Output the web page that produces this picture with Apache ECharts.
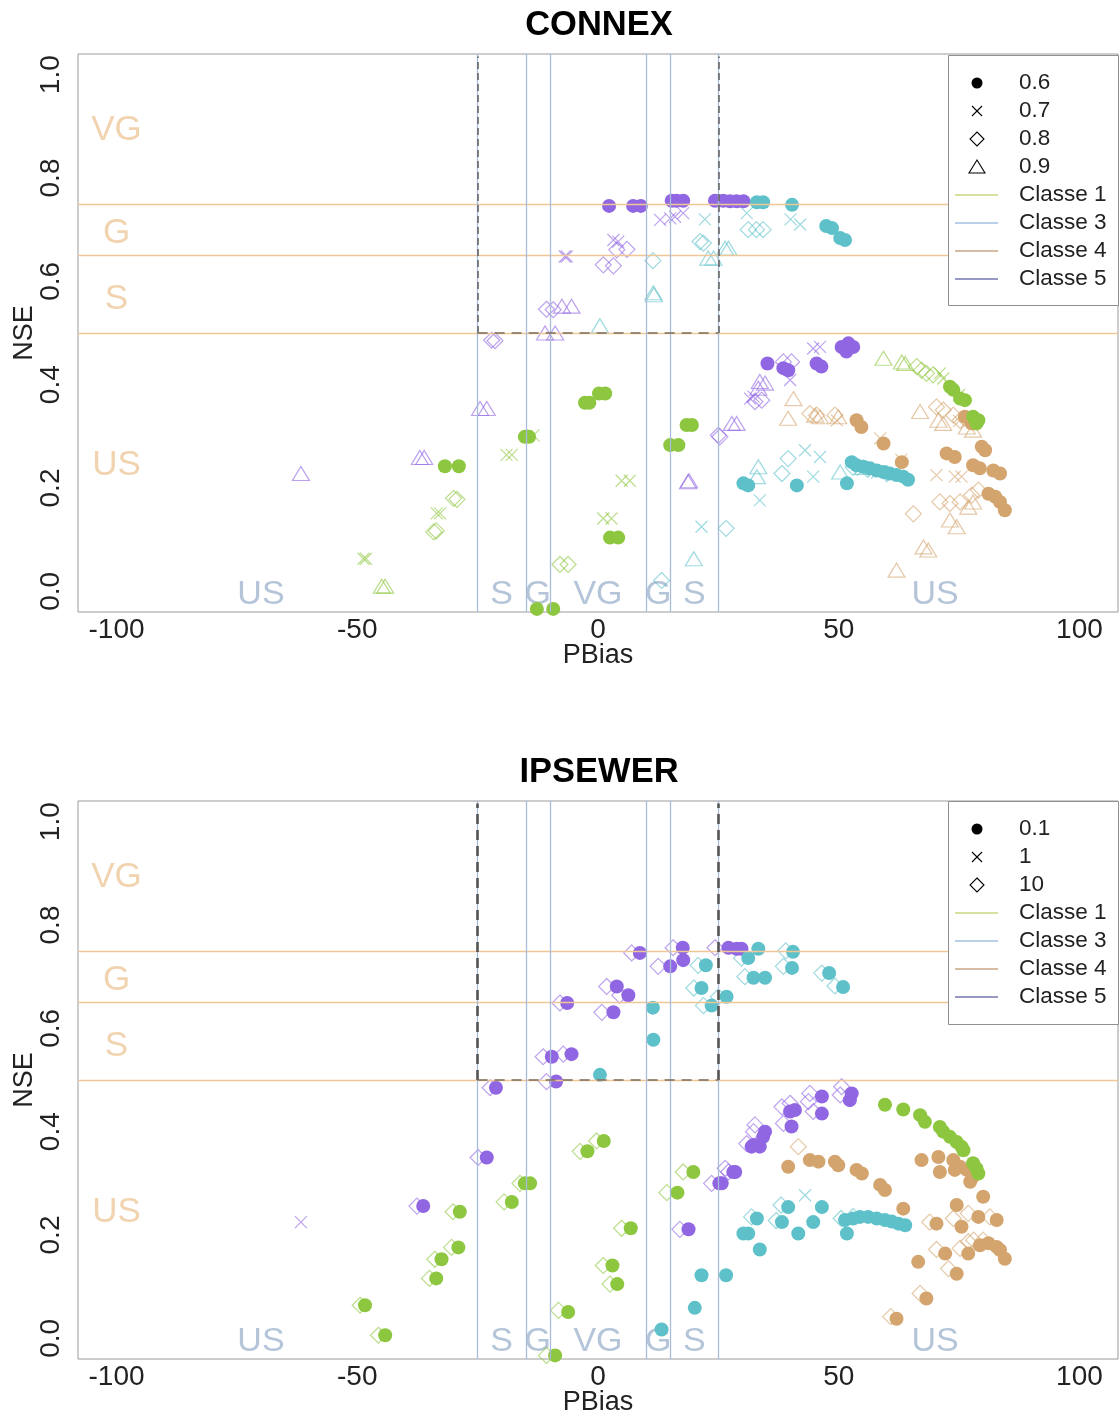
<!DOCTYPE html>
<html><head><meta charset="utf-8">
<script src="https://cdn.jsdelivr.net/npm/echarts@6/dist/echarts.min.js"></script>
<style>html,body{margin:0;padding:0;background:#fff}#c{width:1119px;height:1416px}</style>
</head><body><div id="c"></div>
<script>
// ---------------- DATA ----------------
const xTicks = [-100, -50, 0, 50, 100];
const yTicks = [0, 0.2, 0.4, 0.6, 0.8, 1.0];
const nseLimits = [0.5, 0.65, 0.75];
const pbiasLimits = [-25, -15, -10, 10, 15, 25];
const nseZoneNames = ['VG', 'G', 'S', 'US'];
const nseZoneY = [0.893, 0.692, 0.565, 0.243];
const nseZoneX = -100;
const pbiasZoneNames = ['US', 'S', 'G', 'VG', 'G', 'S', 'US'];
const pbiasZoneX = [-70, -20, -12.5, 0, 12.5, 20, 70];
const pbiasZoneY = -0.007;
const classNames = ['Classe 1', 'Classe 3', 'Classe 4', 'Classe 5'];
const connexParams = ['0.6', '0.7', '0.8', '0.9'];
const ipsewerParams = ['0.1', '1', '10'];

// CONNEX: class 5 (purple)
const cx_c5_p06 = [[2.3,0.746],[7.3,0.746],[8.9,0.746],[15.3,0.756],[16.3,0.756],[17.7,0.756],[24.3,0.756],[26.0,0.756],[27.4,0.755],[28.8,0.755],[30.2,0.755],[35.2,0.441],[38.5,0.432],[39.5,0.428],[45.4,0.441],[46.4,0.435],[50.6,0.473],[52.0,0.48],[53.0,0.473],[51.6,0.464]];
const cx_c5_p07 = [[12.9,0.719],[15.0,0.722],[16.0,0.725],[17.7,0.732],[3.2,0.68],[4.2,0.677],[-6.9,0.648],[-6.5,0.648],[39.9,0.409],[44.7,0.47],[46.1,0.473],[31.6,0.373],[32.3,0.377]];
const cx_c5_p08 = [[3.9,0.661],[6.0,0.662],[1.1,0.632],[3.2,0.63],[-10.7,0.546],[-9.3,0.545],[-22.1,0.486],[-21.4,0.485],[25.0,0.302],[25.3,0.299],[38.5,0.444],[40.2,0.444],[34.0,0.37],[32.6,0.367]];
const cx_c5_p09 = [[-7.5,0.552],[-5.5,0.552],[-11.0,0.50],[-8.9,0.50],[-24.5,0.354],[-23.1,0.354],[-37.0,0.259],[-36.1,0.259],[-61.7,0.228],[18.7,0.212],[18.9,0.214],[27.8,0.325],[28.8,0.325],[33.6,0.406],[34.7,0.403],[33.3,0.393]];
// CONNEX: class 3 (cyan)
const cx_c3_p06 = [[33.0,0.753],[34.3,0.753],[40.3,0.748],[47.4,0.707],[48.6,0.703],[50.3,0.684],[51.3,0.68],[30.2,0.209],[31.2,0.205],[41.3,0.205],[51.7,0.209],[52.7,0.25],[53.7,0.244],[55.1,0.241],[56.5,0.238],[57.9,0.234],[59.3,0.231],[60.6,0.228],[62.0,0.225],[63.4,0.222],[64.4,0.216]];
const cx_c3_p07 = [[22.2,0.72],[30.9,0.732],[40.0,0.72],[42.0,0.71],[33.6,0.176],[21.5,0.125],[43.0,0.273],[44.7,0.222],[46.1,0.26],[55.0,0.235],[58.0,0.23]];
const cx_c3_p08 = [[31.2,0.70],[32.9,0.70],[34.3,0.70],[21.2,0.677],[21.9,0.674],[11.4,0.64],[26.6,0.122],[13.2,0.021],[38.2,0.228],[39.5,0.257],[53.0,0.24],[56.0,0.236],[60.0,0.228]];
const cx_c3_p09 = [[26.4,0.664],[27.1,0.664],[22.9,0.645],[24.0,0.645],[11.5,0.578],[11.6,0.574],[0.4,0.514],[19.9,0.063],[33.3,0.241],[33.0,0.222],[50.3,0.231],[55.0,0.24]];
// CONNEX: class 4 (tan)
const cx_c4_p06 = [[53.7,0.331],[54.7,0.318],[59.3,0.286],[63.1,0.25],[76.2,0.338],[77.6,0.325],[79.7,0.28],[80.4,0.273],[72.4,0.267],[74.1,0.26],[77.9,0.244],[79.3,0.238],[82.1,0.234],[83.5,0.228],[81.1,0.189],[82.5,0.183],[83.5,0.173],[84.5,0.157]];
const cx_c4_p07 = [[49.6,0.331],[58.6,0.296],[70.3,0.225],[74.1,0.222],[75.5,0.222],[63.0,0.255],[75.0,0.33]];
const cx_c4_p08 = [[44.0,0.344],[45.4,0.341],[49.2,0.341],[70.3,0.357],[71.7,0.351],[73.8,0.341],[75.2,0.331],[75.2,0.173],[73.1,0.17],[71.0,0.173],[65.5,0.15],[77.6,0.186],[79.0,0.196]];
const cx_c4_p09 = [[40.6,0.373],[39.5,0.335],[45.1,0.341],[46.1,0.338],[49.9,0.338],[66.9,0.348],[70.7,0.331],[71.7,0.325],[76.6,0.318],[77.9,0.312],[73.1,0.138],[74.5,0.125],[76.9,0.163],[77.9,0.173],[62.0,0.041],[67.6,0.086],[68.6,0.08]];
// CONNEX: class 1 (green)
const cx_c1_p06 = [[-31.8,0.242],[-28.9,0.242],[-2.7,0.365],[-1.8,0.365],[0.2,0.383],[1.5,0.383],[-15.2,0.299],[-14.3,0.299],[2.5,0.104],[4.2,0.104],[-12.7,-0.034],[-9.3,-0.034],[18.4,0.322],[19.5,0.322],[15.0,0.283],[16.7,0.283],[73.1,0.396],[73.8,0.39],[75.2,0.373],[76.2,0.37],[77.9,0.338],[79.0,0.331],[78.6,0.325]];
const cx_c1_p07 = [[-33.5,0.151],[-32.8,0.151],[-48.7,0.063],[-48.2,0.063],[-13.4,0.302],[-19.0,0.264],[-17.9,0.264],[4.9,0.214],[6.6,0.214],[1.1,0.141],[2.8,0.141],[71.0,0.422],[71.7,0.412],[75.0,0.38]];
const cx_c1_p08 = [[-30.0,0.18],[-29.3,0.178],[-34.1,0.115],[-33.6,0.117],[-7.9,0.052],[-6.2,0.052],[66.2,0.435],[67.2,0.428],[68.2,0.422],[69.6,0.419]];
const cx_c1_p09 = [[-44.9,0.01],[-44.2,0.01],[59.3,0.451],[63.1,0.444],[63.8,0.441]];

// IPSEWER: class 5
const ip_c5_p01 = [[-36.3,0.256],[-23.1,0.35],[-21.2,0.485],[-8.7,0.497],[-9.6,0.545],[-5.5,0.55],[-6.4,0.649],[3.2,0.631],[3.9,0.681],[6.3,0.664],[8.7,0.746],[17.6,0.756],[17.7,0.732],[15.0,0.72],[27.1,0.756],[28.8,0.754],[29.8,0.754],[18.8,0.211],[25.2,0.3],[28.5,0.322],[28.1,0.322],[25.7,0.3],[31.9,0.371],[33.6,0.371],[34.7,0.4],[34.3,0.39],[32.3,0.374],[39.9,0.439],[40.2,0.41],[40.9,0.442],[46.5,0.468],[46.5,0.435],[52.7,0.474],[52.3,0.461]];
const ip_c5_p1 = [[-61.7,0.225]];
const ip_c5_p10 = [[-37.6,0.256],[-24.9,0.35],[-22.4,0.485],[-10.7,0.497],[-11.4,0.545],[-7.2,0.55],[-7.9,0.649],[0.8,0.631],[1.8,0.681],[4.5,0.664],[7.0,0.746],[15.6,0.756],[12.5,0.72],[24.3,0.756],[17.0,0.211],[23.6,0.3],[27.1,0.322],[26.4,0.329],[30.9,0.377],[32.6,0.413],[32.3,0.4],[38.2,0.448],[38.5,0.416],[39.9,0.455],[44.0,0.474],[44.7,0.439],[43.7,0.458],[50.6,0.487],[50.3,0.471]];
// IPSEWER: class 3
const ip_c3_p01 = [[33.3,0.754],[31.2,0.736],[32.3,0.698],[34.7,0.698],[22.4,0.722],[21.5,0.678],[26.7,0.661],[23.6,0.644],[11.4,0.64],[11.5,0.578],[0.4,0.51],[40.5,0.748],[40.3,0.717],[48.0,0.707],[50.9,0.68],[21.5,0.122],[26.6,0.122],[20.1,0.059],[13.2,0.017],[33.0,0.232],[31.2,0.203],[30.2,0.203],[33.6,0.172],[38.2,0.225],[39.5,0.254],[41.6,0.203],[44.7,0.225],[46.5,0.254],[51.7,0.203],[51.3,0.229],[53.0,0.232],[54.4,0.235],[56.1,0.235],[57.9,0.232],[59.6,0.229],[61.0,0.226],[62.4,0.222],[63.8,0.219]];
const ip_c3_p1 = [[43.0,0.277]];
const ip_c3_p10 = [[29.8,0.736],[30.5,0.70],[20.8,0.722],[19.9,0.678],[25.0,0.661],[21.9,0.644],[31.9,0.235],[39.0,0.75],[38.5,0.72],[46.5,0.707],[49.2,0.682],[50.5,0.232],[53.0,0.236],[37.0,0.228],[38.0,0.258]];
// IPSEWER: class 4
const ip_c4_p01 = [[39.5,0.332],[44.0,0.345],[45.8,0.342],[49.2,0.342],[49.9,0.335],[53.7,0.326],[54.8,0.319],[58.6,0.297],[59.6,0.287],[63.4,0.251],[67.2,0.345],[70.7,0.351],[71.0,0.322],[73.8,0.345],[74.1,0.326],[75.2,0.332],[76.6,0.326],[77.3,0.303],[77.9,0.313],[80.0,0.274],[74.5,0.258],[79.0,0.235],[82.8,0.229],[70.3,0.222],[75.5,0.216],[79.3,0.18],[81.1,0.184],[82.8,0.177],[83.5,0.171],[76.9,0.164],[84.5,0.154],[72.1,0.164],[66.5,0.148],[74.5,0.125],[62.0,0.038],[68.2,0.077]];
const ip_c4_p1 = [];
const ip_c4_p10 = [[41.6,0.371],[68.9,0.225],[73.8,0.232],[76.9,0.242],[81.4,0.235],[72.8,0.135],[70.3,0.172],[75.2,0.174],[76.9,0.187],[66.9,0.087],[60.8,0.042],[78.0,0.19],[80.0,0.19]];
// IPSEWER: class 1
const ip_c1_p01 = [[-28.7,0.245],[-29.0,0.176],[-32.5,0.153],[-33.6,0.116],[-48.4,0.064],[-44.2,0.006],[-14.1,0.3],[-15.2,0.3],[-17.9,0.264],[6.8,0.213],[3.0,0.141],[4.0,0.105],[-6.2,0.051],[-8.9,-0.033],[-2.2,0.362],[1.2,0.382],[19.8,0.322],[16.5,0.282],[59.6,0.452],[63.4,0.443],[66.9,0.432],[67.9,0.419],[71.0,0.409],[71.7,0.4],[73.1,0.39],[74.5,0.38],[75.5,0.371],[75.9,0.364],[77.9,0.339],[78.6,0.329],[79.0,0.319]];
const ip_c1_p1 = [];
const ip_c1_p10 = [[-30.1,0.245],[-30.4,0.176],[-33.9,0.153],[-35.0,0.116],[-49.4,0.064],[-45.6,0.006],[-16.2,0.3],[-19.5,0.264],[4.9,0.213],[1.1,0.141],[2.5,0.105],[-8.2,0.054],[-10.7,-0.033],[-3.7,0.362],[-0.3,0.382],[17.7,0.322],[14.3,0.282]];

// ---------------- STYLE / LAYOUT ----------------
const FONT = '"Liberation Sans", Arial, Helvetica, sans-serif';
const COL = { c1: '#8DC63F', c3: '#5EC1CA', c4: '#D3A46D', c5: '#9166E2' };
const OPEN = { c1: 'rgba(141,198,63,0.75)', c3: 'rgba(94,193,202,0.75)', c4: 'rgba(211,164,109,0.75)', c5: 'rgba(145,102,226,0.75)' };
const LEG_LINE = { c1: '#c9d67f', c3: '#a3bfe3', c4: '#c9a684', c5: '#7476b0' };
const PLOT_L = 78, PLOT_W = 1040, PLOT_H = 558;
const PANEL_TOPS = [54, 801];
const X_SYM = 'path://M0,0L10,10M10,0L0,10';

function pts(gi, data, cls, shape, z) {
  const s = { type: 'scatter', xAxisIndex: gi, yAxisIndex: gi, data: data, silent: true, z: z || 3, animation: false };
  if (shape === 'dot') { s.symbol = 'circle'; s.symbolSize = 14; s.itemStyle = { color: COL[cls], opacity: 1 }; }
  else if (shape === 'x') { s.symbol = X_SYM; s.symbolSize = 12; s.itemStyle = { color: 'rgba(0,0,0,0)', borderColor: OPEN[cls], borderWidth: 1.2 }; }
  else if (shape === 'diamond') { s.symbol = 'diamond'; s.symbolSize = 16; s.itemStyle = { color: 'rgba(0,0,0,0)', borderColor: OPEN[cls], borderWidth: 1.2 }; }
  else { s.symbol = 'triangle'; s.symbolSize = [17, 14]; s.itemStyle = { color: 'rgba(0,0,0,0)', borderColor: OPEN[cls], borderWidth: 1.2 }; }
  return s;
}

function refLines(gi, thickDash) {
  const data = [];
  nseLimits.forEach(v => data.push({ yAxis: v, lineStyle: { color: '#EFC796', width: 1.3, type: 'solid', opacity: 1 } }));
  pbiasLimits.forEach(v => data.push({ xAxis: v, lineStyle: { color: '#A7BBDB', width: 1.3, type: 'solid', opacity: 1 } }));
  const dash = { color: thickDash ? '#555' : '#666', width: thickDash ? 2.6 : 1.6, type: thickDash ? [10, 6] : [7, 4], opacity: 1 };
  [-25, 25].forEach(v => data.push([{ coord: [v, 0.5], lineStyle: dash }, { coord: [v, 1.035] }]));
  data.push([{ coord: [-25, 0.5], lineStyle: { color: 'rgba(130,115,95,0.8)', width: 2, type: [10, 7], opacity: 1 } }, { coord: [25, 0.5] }]);
  return { type: 'scatter', xAxisIndex: gi, yAxisIndex: gi, data: [], silent: true, z: 1,
    markLine: { silent: true, symbol: ['none', 'none'], label: { show: false }, animation: false, data: data } };
}

function zoneLabels(gi) {
  const a = nseZoneNames.map((n, i) => ({ name: n, value: [nseZoneX, nseZoneY[i]] }));
  const b = pbiasZoneNames.map((n, i) => ({ name: n, value: [pbiasZoneX[i], pbiasZoneY] }));
  return [
    { type: 'scatter', xAxisIndex: gi, yAxisIndex: gi, data: a, symbolSize: 1, itemStyle: { color: 'rgba(0,0,0,0)' }, silent: true, z: 2,
      label: { show: true, position: 'inside', formatter: p => p.name, fontSize: 35, color: '#EDC89C', fontFamily: FONT } },
    { type: 'scatter', xAxisIndex: gi, yAxisIndex: gi, data: b, symbolSize: 1, itemStyle: { color: 'rgba(0,0,0,0)' }, silent: true, z: 2,
      label: { show: true, position: 'inside', formatter: p => p.name, fontSize: 34, color: '#A3B6D0', fontFamily: FONT } }
  ];
}

function legendSym(shape, x, y) {
  if (shape === 'dot') return [{ type: 'circle', shape: { cx: x, cy: y, r: 5.5 }, style: { fill: '#000' }, z: 101 }];
  if (shape === 'x') return [
    { type: 'line', shape: { x1: x - 5, y1: y - 5, x2: x + 5, y2: y + 5 }, style: { stroke: '#000', lineWidth: 1.1 }, z: 101 },
    { type: 'line', shape: { x1: x + 5, y1: y - 5, x2: x - 5, y2: y + 5 }, style: { stroke: '#000', lineWidth: 1.1 }, z: 101 }];
  if (shape === 'diamond') return [{ type: 'polygon', shape: { points: [[x, y - 7], [x + 7, y], [x, y + 7], [x - 7, y]] }, style: { stroke: '#000', lineWidth: 1.1, fill: 'rgba(0,0,0,0)' }, z: 101 }];
  return [{ type: 'polygon', shape: { points: [[x, y - 7], [x + 8, y + 6], [x - 8, y + 6]] }, style: { stroke: '#000', lineWidth: 1.1, fill: 'rgba(0,0,0,0)' }, z: 101 }];
}

function legend(top, height, params, shapes) {
  const ch = [{ type: 'rect', shape: { x: 948.5, y: top + 0.5, width: 170, height: height }, style: { fill: '#fff', stroke: '#8f8f8f', lineWidth: 1 }, z: 100 }];
  let y = top + 28;
  params.forEach((p, i) => {
    ch.push(...legendSym(shapes[i], 977, y));
    ch.push({ type: 'text', x: 1019, y: y, style: { text: p, font: '22.5px ' + FONT, fill: '#222', verticalAlign: 'middle', align: 'left' }, z: 101 });
    y += 28;
  });
  ['c1', 'c3', 'c4', 'c5'].forEach((c, i) => {
    ch.push({ type: 'line', shape: { x1: 955, y1: y, x2: 998, y2: y }, style: { stroke: LEG_LINE[c], lineWidth: 1.3 }, z: 101 });
    ch.push({ type: 'text', x: 1019, y: y, style: { text: classNames[i], font: '22.5px ' + FONT, fill: '#222', verticalAlign: 'middle', align: 'left' }, z: 101 });
    y += 28;
  });
  return ch;
}

const grids = PANEL_TOPS.map(t => ({ left: PLOT_L, top: t, width: PLOT_W, height: PLOT_H, containLabel: false, outerBoundsMode: 'none', show: true, borderColor: '#9a9a9a', borderWidth: 1, backgroundColor: 'rgba(0,0,0,0)' }));
const xAxes = PANEL_TOPS.map((t, i) => ({ gridIndex: i, type: 'value', min: -108, max: 108,
  axisLine: { show: false }, axisTick: { show: false }, splitLine: { show: false },
  axisLabel: { customValues: xTicks, fontSize: 28, color: '#222', margin: 4, fontFamily: FONT },
  name: 'PBias', nameLocation: 'middle', nameGap: 30, nameMoveOverlap: false, nameTextStyle: { fontSize: 27, color: '#222', fontFamily: FONT } }));
const yAxes = PANEL_TOPS.map((t, i) => ({ gridIndex: i, type: 'value', min: -0.04, max: 1.04,
  axisLine: { show: false }, axisTick: { show: false }, splitLine: { show: false },
  axisLabel: { customValues: yTicks, rotate: 90, fontSize: 28, color: '#222', margin: 13, fontFamily: FONT, formatter: v => v.toFixed(1) },
  name: 'NSE', nameLocation: 'middle', nameGap: 40, nameMoveOverlap: false, nameRotate: 90, nameTextStyle: { fontSize: 27, color: '#222', fontFamily: FONT } }));

const series = [
  refLines(0, false), refLines(1, true), ...zoneLabels(0), ...zoneLabels(1),
  // CONNEX
  pts(0, cx_c5_p09, 'c5', 'tri'), pts(0, cx_c5_p08, 'c5', 'diamond'), pts(0, cx_c5_p07, 'c5', 'x'),
  pts(0, cx_c3_p09, 'c3', 'tri'), pts(0, cx_c3_p08, 'c3', 'diamond'), pts(0, cx_c3_p07, 'c3', 'x'),
  pts(0, cx_c4_p09, 'c4', 'tri'), pts(0, cx_c4_p08, 'c4', 'diamond'), pts(0, cx_c4_p07, 'c4', 'x'),
  pts(0, cx_c1_p09, 'c1', 'tri'), pts(0, cx_c1_p08, 'c1', 'diamond'), pts(0, cx_c1_p07, 'c1', 'x'),
  pts(0, cx_c5_p06, 'c5', 'dot', 4), pts(0, cx_c3_p06, 'c3', 'dot', 4), pts(0, cx_c4_p06, 'c4', 'dot', 4), pts(0, cx_c1_p06, 'c1', 'dot', 4),
  // IPSEWER
  pts(1, ip_c5_p10, 'c5', 'diamond'), pts(1, ip_c5_p1, 'c5', 'x'),
  pts(1, ip_c3_p10, 'c3', 'diamond'), pts(1, ip_c3_p1, 'c3', 'x'),
  pts(1, ip_c4_p10, 'c4', 'diamond'), pts(1, ip_c4_p1, 'c4', 'x'),
  pts(1, ip_c1_p10, 'c1', 'diamond'), pts(1, ip_c1_p1, 'c1', 'x'),
  pts(1, ip_c5_p01, 'c5', 'dot', 4), pts(1, ip_c3_p01, 'c3', 'dot', 4), pts(1, ip_c4_p01, 'c4', 'dot', 4), pts(1, ip_c1_p01, 'c1', 'dot', 4)
];

const graphic = [
  { type: 'text', x: 599, y: 25, style: { text: 'CONNEX', font: 'bold 34.5px ' + FONT, fill: '#000', align: 'center', verticalAlign: 'middle' }, z: 100 },
  { type: 'text', x: 599, y: 772, style: { text: 'IPSEWER', font: 'bold 34.5px ' + FONT, fill: '#000', align: 'center', verticalAlign: 'middle' }, z: 100 },
  ...legend(55, 250, connexParams, ['dot', 'x', 'diamond', 'tri']),
  ...legend(801, 223, ipsewerParams, ['dot', 'x', 'diamond'])
];

const chart = echarts.init(document.getElementById('c'), null, { renderer: 'canvas' });
chart.setOption({ animation: false, backgroundColor: '#fff', grid: grids, xAxis: xAxes, yAxis: yAxes, series: series, graphic: graphic });
</script></body></html>
